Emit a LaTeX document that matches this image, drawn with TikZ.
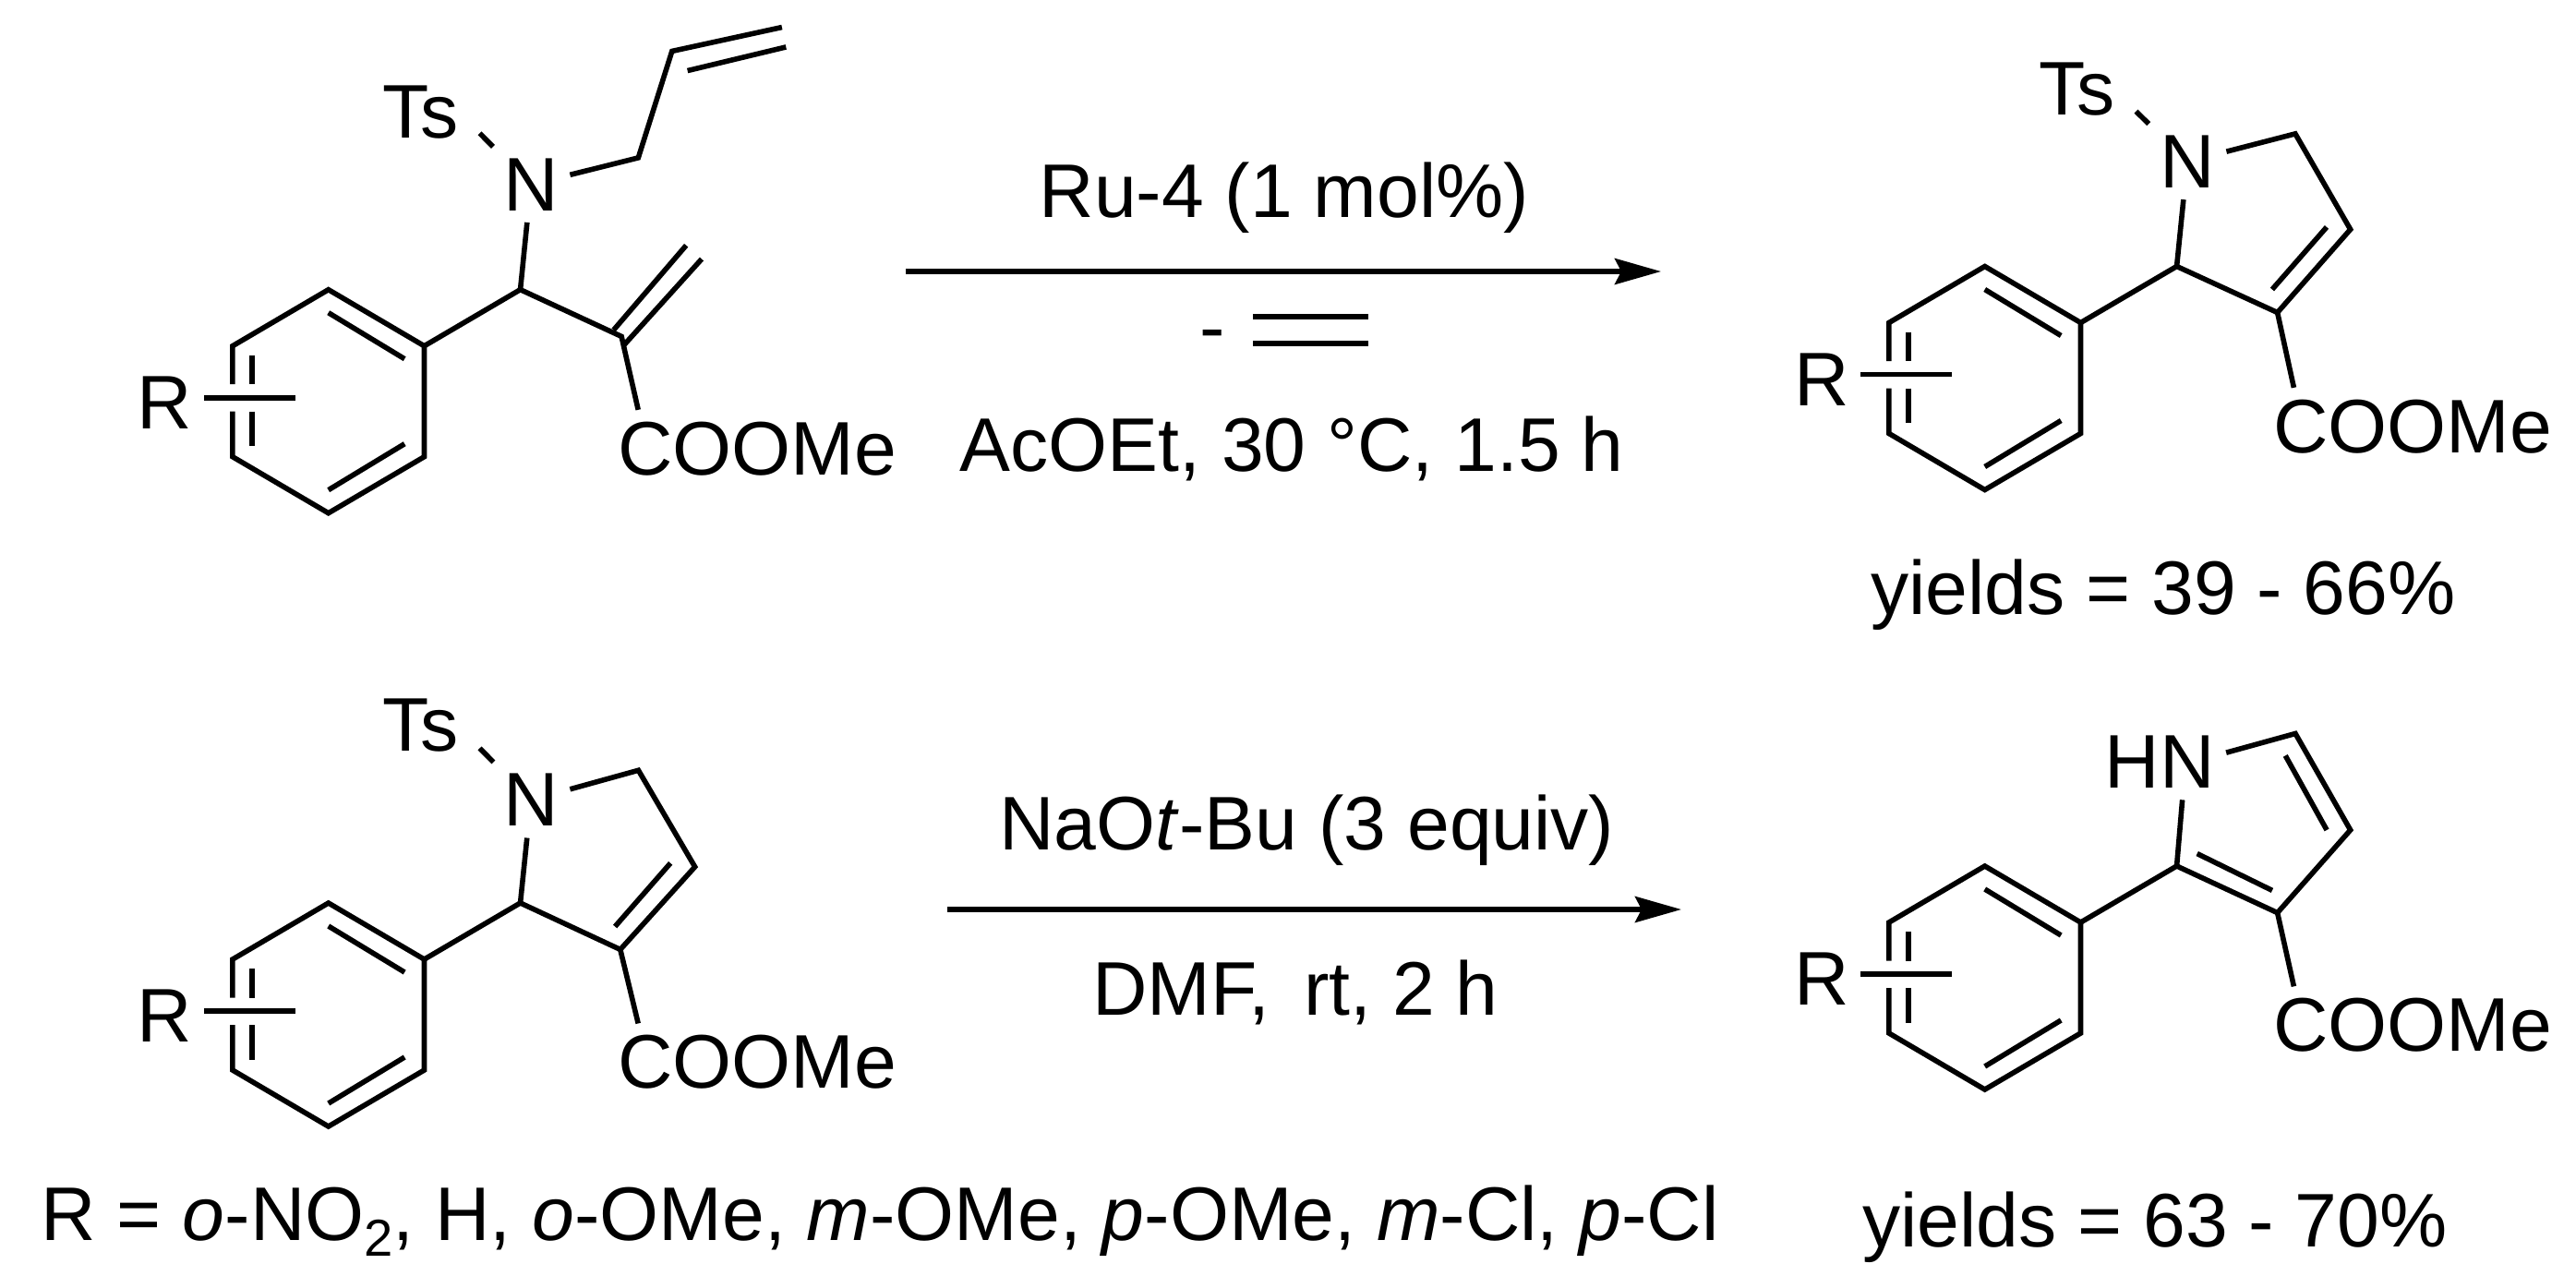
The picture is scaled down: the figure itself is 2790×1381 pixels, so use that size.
\documentclass[tikz,border=0pt]{standalone}
\usepackage{fontspec}
\setmainfont{Liberation Sans}
\usetikzlibrary{arrows.meta,positioning}

\begin{document}
\begin{tikzpicture}[x=.01cm,y=-.01cm,
        font=\fontsize{23.4}{28}\selectfont,
        bond/.style={line width=.056cm},
        atom/.style={anchor=base,inner sep=.12cm},
        tosyl/.style={atom,inner xsep=.22cm},
        reagent/.style={anchor=base,inner sep=0pt},
        react arrow/.style={line width=.055cm,-{Stealth[length=.5cm,width=.28cm,inset=.07cm]}},
        arylring/.pic={
            \coordinate (-top) at (0,0);
            \coordinate (-ur) at (103.8,61);
            \coordinate (-lr) at (103.8,181);
            \coordinate (-bot) at (0,242);
            \coordinate (-ll) at (-103.8,181);
            \coordinate (-ul) at (-103.8,61);
            \coordinate (-g1) at (-103.8,102.5);
            \coordinate (-g2) at (-103.8,132);
            \coordinate (-rb) at (-36,117);
            \node[atom] (-r) at (-177,150.5) {R};
            \draw[bond] (-g1) -- (-ul) -- (-top) -- (-ur) -- (-lr) -- (-bot) -- (-ll) -- (-g2);
            \draw[bond] (-r.east |- -rb) -- (-rb);
            \draw[bond] (0,25) -- (82.5,75);
            \draw[bond] (0,217) -- (82.5,167);
            \draw[bond] (-83,71) -- (-83,102.5);
            \draw[bond] (-83,132) -- (-83,169.5);
        }]
    \useasboundingbox (0,0) rectangle (2790,1381);

    % allyl amine
    \pic (a) at (355.7,313.7) {arylring};
    \node[tosyl] (ats) at (455.7,149) {Ts};
    \node[atom] (an) at (575,228.2) {N};
    \node[atom] (acoome) at (820,514) {COOMe};
    \coordinate[above right=.61cm and 1.04cm of a-ur] (ach);
    \coordinate[below right=.507cm and 1.095cm of ach] (ac2);
    \coordinate[above left=.07cm and .085cm of ac2] (ad1);
    \coordinate[above right=.986cm and .70cm of ac2] (ad2);
    \coordinate[below right=.094cm and .026cm of ac2] (ad3);
    \coordinate[above right=.838cm and .868cm of ac2] (ad4);
    \coordinate (al1) at (691.3,170.9);
    \coordinate[above right=1.154cm and .365cm of al1] (al2);
    \coordinate[above right=.259cm and 1.19cm of al2] (al3);
    \coordinate[below right=.211cm and .168cm of al2] (al4);
    \coordinate[below right=.214cm and .044cm of al3] (al5);
    \draw[bond] (a-ur) -- (ach) -- (ac2) -- (acoome.162);
    \draw[bond] (ach) -- (an);
    \draw[bond] (ats.-20) -- (an);
    \draw[bond] (an) -- (al1) -- (al2) -- (al3);
    \draw[bond] (al4) -- (al5);
    \draw[bond] (ad1) -- (ad2);
    \draw[bond] (ad3) -- (ad4);

    % first arrow
    \coordinate (r1s) at (980.8,294);
    \coordinate (r1e) at (1799,294);
    \draw[react arrow] (r1s) -- (r1e);
    \node[reagent] (r1a) at (1391,235.4) {Ru-4 (1 mol\%)};
    \node[reagent] (r1b) at (1313,382) {-};
    \node[reagent] (r1c) at (1399,510) {AcOEt, 30 °C, 1.5 h};
    \coordinate (e1) at (1357.3,343);
    \coordinate[right=1.25cm of e1] (e2);
    \coordinate[below=.29cm of e1] (e3);
    \coordinate[right=1.25cm of e3] (e4);
    \draw[bond] (e1) -- (e2);
    \draw[bond] (e3) -- (e4);

    % dihydropyrrole
    \pic (b) at (2149.7,288.5) {arylring};
    \node[tosyl] (bts) at (2249.6,124) {Ts};
    \node[atom] (bn) at (2369,203.4) {N};
    \node[atom] (bcoome) at (2613.2,490) {COOMe};
    \coordinate[above right=.61cm and 1.04cm of b-ur] (bch);
    \coordinate[below right=.50cm and 1.09cm of bch] (bc3);
    \coordinate[above right=.90cm and .79cm of bc3] (bc4);
    \coordinate[above left=1.035cm and .597cm of bc4] (bc5);
    \coordinate[above left=.25cm and .057cm of bc3] (bi1);
    \coordinate[above left=.025cm and .257cm of bc4] (bi2);
    \draw[bond] (b-ur) -- (bch) -- (bc3) -- (bc4) -- (bc5) -- (bn);
    \draw[bond] (bch) -- (bn);
    \draw[bond] (bts.-21) -- (bn);
    \draw[bond] (bc3) -- (bcoome.162);
    \draw[bond] (bi1) -- (bi2);
    \node[reagent] (y1) at (2343,665) {yields = 39 - 66\%};

    % second row, left
    \pic (c) at (355.7,978) {arylring};
    \node[tosyl] (cts) at (455.7,813.8) {Ts};
    \node[atom] (cn) at (575,894.8) {N};
    \node[atom] (ccoome) at (820,1178.6) {COOMe};
    \coordinate[above right=.61cm and 1.04cm of c-ur] (cch);
    \coordinate[below right=.504cm and 1.082cm of cch] (cc3);
    \coordinate[above right=.895cm and .808cm of cc3] (cc4);
    \coordinate[above left=1.045cm and .612cm of cc4] (cc5);
    \coordinate[above left=.249cm and .057cm of cc3] (ci1);
    \coordinate[above left=.04cm and .265cm of cc4] (ci2);
    \draw[bond] (c-ur) -- (cch) -- (cc3) -- (cc4) -- (cc5) -- (cn);
    \draw[bond] (cch) -- (cn);
    \draw[bond] (cts.-21) -- (cn);
    \draw[bond] (cc3) -- (ccoome.162);
    \draw[bond] (ci1) -- (ci2);

    % second arrow
    \coordinate (r2s) at (1026,985);
    \coordinate (r2e) at (1821,985);
    \draw[react arrow] (r2s) -- (r2e);
    \node[reagent] (r2a) at (1415.5,920) {NaO\textit{t}-Bu (3 equiv)};
    \node[reagent] (r2b) at (1403,1099) {DMF,\,~rt, 2 h};

    % pyrrole
    \pic (d) at (2149.7,938) {arylring};
    \node[atom] (dhn) at (2339,853.6) {HN};
    \node[atom] (dcoome) at (2613.2,1138.5) {COOMe};
    \coordinate[above right=.61cm and 1.04cm of d-ur] (dc2);
    \coordinate[below right=.506cm and 1.09cm of dc2] (dc3);
    \coordinate[above right=.896cm and .79cm of dc3] (dc4);
    \coordinate[above left=1.044cm and .596cm of dc4] (dc5);
    \coordinate[left=.256cm of dc4] (di1);
    \coordinate[below left=.239cm and .108cm of dc5] (di2);
    \coordinate[above right=.134cm and .221cm of dc2] (di3);
    \coordinate[above left=.242cm and .057cm of dc3] (di4);
    \draw[bond] (d-ur) -- (dc2) -- (dc3) -- (dc4) -- (dc5) -- (dhn.8);
    \draw[bond] (dc2) -- (dhn.-59);
    \draw[bond] (dc3) -- (dcoome.162);
    \draw[bond] (di1) -- (di2);
    \draw[bond] (di3) -- (di4);
    \node[reagent] (y2) at (2334,1350) {yields = 63 - 70\%};

    \node[reagent] (rlist) at (953,1343) {R = \textit{o}-NO\raisebox{-.17cm}{\fontsize{16}{18}\selectfont 2}, H, \textit{o}-OMe, \textit{m}-OMe, \textit{p}-OMe, \textit{m}-Cl, \textit{p}-Cl};
\end{tikzpicture}
\end{document}
